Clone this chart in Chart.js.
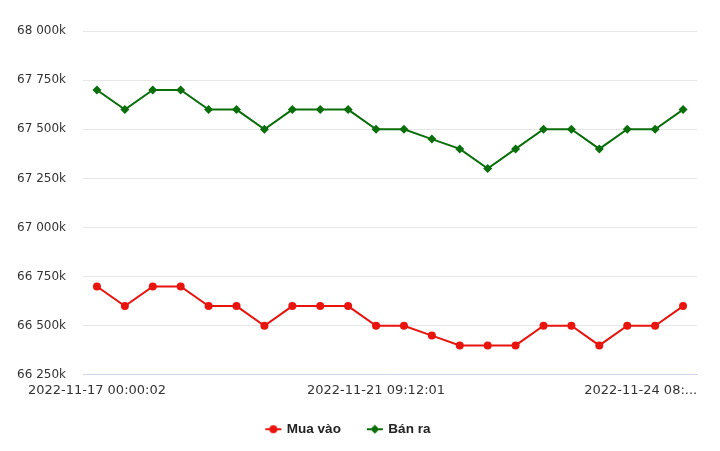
<!DOCTYPE html>
<html>
<head>
<meta charset="utf-8">
<script src="https://cdn.jsdelivr.net/npm/chart.js@4/dist/chart.umd.min.js"></script>
<style>
  html, body { margin: 0; padding: 0; background: #fff; }
  #wrap { width: 720px; height: 451px; }
</style>
</head>
<body>
<div id="wrap"><canvas id="chart"></canvas></div>
<script>
// Data (VND)
const categories = [
    '2022-11-17 00:00:02', '', '', '', '', '', '', '', '', '',
    '2022-11-21 09:12:01', '', '', '', '', '', '', '', '', '',
    '2022-11-24 08:...', ''
];
const muaVao = [
    66700000, 66600000, 66700000, 66700000, 66600000, 66600000, 66500000, 66600000,
    66600000, 66600000, 66500000, 66500000, 66450000, 66400000, 66400000, 66400000,
    66500000, 66500000, 66400000, 66500000, 66500000, 66600000
];
const banRa = [
    67700000, 67600000, 67700000, 67700000, 67600000, 67600000, 67500000, 67600000,
    67600000, 67600000, 67500000, 67500000, 67450000, 67400000, 67300000, 67400000,
    67500000, 67500000, 67400000, 67500000, 67500000, 67600000
];
const seriesNames = ['Mua vào', 'Bán ra'];
const yMin = 66250000;
const yMax = 68000000;
const yStep = 250000;

const RED = '#e8140e';
const GREEN = '#0a6e0a';

// "68 000k" style labels
function formatTick(value) {
    const k = Math.round(value / 1000);
    return k.toString().replace(/\B(?=(\d{3})+(?!\d))/g, ' ') + 'k';
}

// small legend symbol: line with marker
function legendSymbol(color, shape) {
    const c = document.createElement('canvas');
    c.width = 18;
    c.height = 10;
    const ctx = c.getContext('2d');
    ctx.strokeStyle = color;
    ctx.fillStyle = color;
    ctx.lineWidth = 2;
    ctx.beginPath();
    ctx.moveTo(1, 5);
    ctx.lineTo(17, 5);
    ctx.stroke();
    ctx.beginPath();
    if (shape === 'circle') {
        ctx.arc(9, 5, 4, 0, Math.PI * 2);
    } else {
        ctx.moveTo(9, 0.5);
        ctx.lineTo(13.5, 5);
        ctx.lineTo(9, 9.5);
        ctx.lineTo(4.5, 5);
        ctx.closePath();
    }
    ctx.fill();
    return c;
}

const symbols = [legendSymbol(RED, 'circle'), legendSymbol(GREEN, 'diamond')];

new Chart(document.getElementById('chart'), {
    type: 'line',
    data: {
        labels: categories,
        datasets: [
            {
                label: seriesNames[0],
                data: muaVao,
                borderColor: RED,
                backgroundColor: RED,
                borderWidth: 2,
                pointStyle: 'circle',
                pointRadius: 4,
                pointBorderWidth: 0,
                tension: 0
            },
            {
                label: seriesNames[1],
                data: banRa,
                borderColor: GREEN,
                backgroundColor: GREEN,
                borderWidth: 2,
                pointStyle: 'rectRot',
                pointRadius: 4.5,
                pointBorderWidth: 0,
                tension: 0
            }
        ]
    },
    options: {
        responsive: true,
        maintainAspectRatio: false,
        animation: false,
        layout: { padding: { top: 31, right: 23, bottom: 5, left: 0 } },
        scales: {
            x: {
                offset: true,
                grid: { display: false, drawTicks: false },
                border: { display: true, color: '#ccd6eb', width: 1 },
                ticks: {
                    autoSkip: false,
                    maxRotation: 0,
                    padding: 8,
                    color: '#333333',
                    font: { family: 'DejaVu Sans', size: 13 },
                    callback: function (value, index, ticks) {
                        const label = this.getLabelForValue(value);
                        // last shown label sits left of its point, like the original
                        if (index === 20) return label + '\u00a0'.repeat(7);
                        return label;
                    }
                }
            },
            y: {
                min: yMin,
                max: yMax,
                afterFit: (scale) => { scale.width = 83; },
                grid: { color: '#e6e6e6', lineWidth: 1, drawTicks: false },
                border: { display: false },
                ticks: {
                    stepSize: yStep,
                    padding: 17,
                    color: '#333333',
                    font: { family: 'DejaVu Sans', size: 12 },
                    callback: (v) => formatTick(v)
                }
            }
        },
        plugins: {
            tooltip: { enabled: false },
            legend: {
                position: 'bottom',
                labels: {
                    usePointStyle: true,
                    padding: 16,
                    color: '#222222',
                    font: { family: 'Liberation Sans', size: 13.5, weight: 'bold' },
                    generateLabels: (chart) => chart.data.datasets.map((ds, i) => ({
                        // extra gap after the first item
                        text: i === 0 ? ds.label + '\u00a0'.repeat(3) : ds.label,
                        pointStyle: symbols[i],
                        fillStyle: ds.borderColor,
                        strokeStyle: ds.borderColor,
                        fontColor: '#222222',
                        lineWidth: 0,
                        hidden: false,
                        datasetIndex: i
                    }))
                }
            }
        }
    }
});
</script>
</body>
</html>
